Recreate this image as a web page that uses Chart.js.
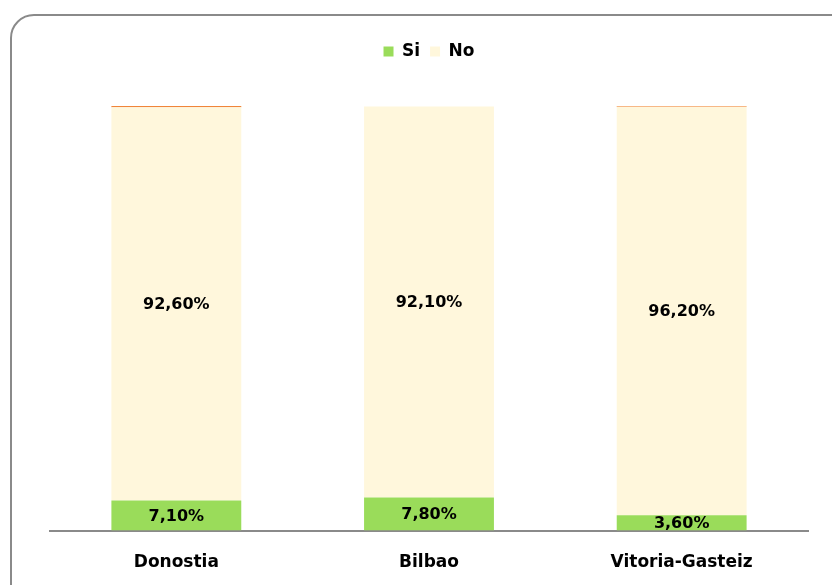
<!DOCTYPE html>
<html>
<head>
<meta charset="utf-8">
<script src="https://cdn.jsdelivr.net/npm/chart.js@4.4.1/dist/chart.umd.min.js"></script>
<style>
  html, body { margin: 0; padding: 0; background: #fff; overflow: hidden; }
  #wrap { position: relative; width: 832px; height: 585px; }
  #frame {
    position: absolute; left: 10px; top: 14px; width: 900px; height: 700px;
    border: 2px solid #8a8a8a; border-radius: 24px; box-sizing: border-box;
  }
  #chart { position: absolute; left: 0; top: 0; }
</style>
</head>
<body>
<div id="wrap">
  <div id="frame"></div>
  <canvas id="chart" width="832" height="585"></canvas>
</div>
<script>
// --- DATA ---
const ciudades = ['Donostia', 'Bilbao', 'Vitoria-Gasteiz'];
const si = [7.1, 7.8, 3.6];
const no = [92.6, 92.1, 96.2];
const nsnc = [0.3, 0, 0.2];   // resto hasta 100% (linea naranja arriba)

const FONT = '"DejaVu Sans", sans-serif';

// etiquetas de valor dentro de cada segmento
const valueLabels = {
    id: 'valueLabels',
    afterDatasetsDraw(chart) {
        const ctx = chart.ctx;
        ctx.save();
        ctx.font = 'bold 16px ' + FONT;
        ctx.fillStyle = '#000';
        ctx.textAlign = 'center';
        ctx.textBaseline = 'middle';
        [0, 1].forEach(di => {
            const meta = chart.getDatasetMeta(di);
            meta.data.forEach((bar, i) => {
                const p = bar.getProps(['x', 'y', 'base'], true);
                const v = chart.data.datasets[di].data[i];
                const txt = v.toFixed(2).replace('.', ',') + '%';
                ctx.fillText(txt, p.x, (p.y + p.base) / 2 + 1);
            });
        });
        ctx.restore();
    }
};

// espacio extra bajo la leyenda
const legendGap = {
    id: 'legendGap',
    beforeInit(chart) {
        const fit = chart.legend.fit;
        chart.legend.fit = function () {
            fit.bind(chart.legend)();
            this.height += 36;
        };
    }
};

new Chart(document.getElementById('chart'), {
    type: 'bar',
    data: {
        labels: ciudades,
        datasets: [
            { label: 'Si', data: si, backgroundColor: '#9ADC5A' },
            { label: 'No', data: no, backgroundColor: '#FFF7DC' },
            { label: 'NS/NC', data: nsnc, backgroundColor: '#F0853A' }
        ]
    },
    options: {
        responsive: false,
        animation: false,
        datasets: { bar: { barPercentage: 0.514, categoryPercentage: 1 } },
        layout: { padding: { left: 50, right: 24, top: 33, bottom: -10 } },
        scales: {
            x: {
                stacked: true,
                grid: { display: false, drawTicks: false },
                border: { color: '#8a8a8a', width: 2 },
                ticks: { color: '#000', padding: 22, font: { family: FONT, size: 17, weight: 'bold' } }
            },
            y: { stacked: true, display: false, min: 0, max: 100 }
        },
        plugins: {
            tooltip: { enabled: false },
            legend: {
                position: 'top',
                labels: {
                    color: '#000',
                    boxWidth: 10, boxHeight: 10,
                    padding: 10,
                    font: { family: FONT, size: 17, weight: 'bold' },
                    filter: item => item.text !== 'NS/NC'
                }
            }
        }
    },
    plugins: [valueLabels, legendGap]
});
</script>
</body>
</html>
